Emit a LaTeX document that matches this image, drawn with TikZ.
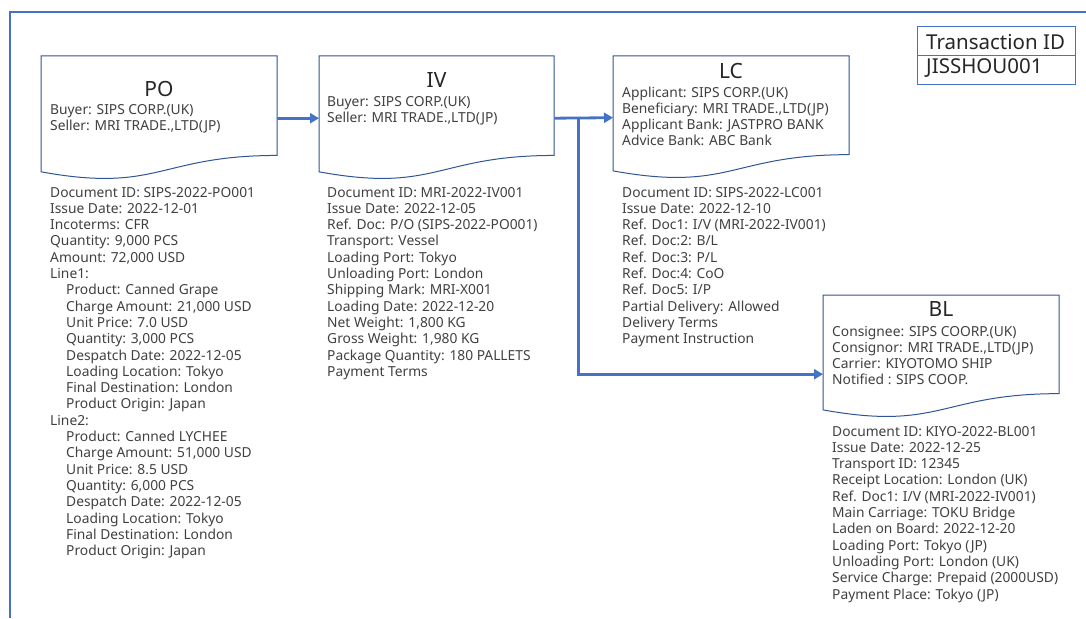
\documentclass[tikz,border=0pt]{standalone}
\usepackage{fontspec}
\setmainfont{Noto Sans}
\usetikzlibrary{arrows.meta}
\definecolor{frameblue}{RGB}{68,114,196}
\definecolor{shapeblue}{RGB}{47,85,151}
\definecolor{txtgray}{RGB}{64,64,64}
\definecolor{titlegray}{RGB}{38,38,38}
\newcommand{\docshape}[5]{%
  \draw[docline] (#2,#3) -- (#2+#4,#3) -- (#2+#4,#3+0.802*#5)
    .. controls (#2+0.5*#4,#3+0.802*#5) and (#2+0.5*#4,#3+1.1075*#5) .. (#2,#3+0.934*#5) -- cycle;
  \node[docbox, minimum width=#4pt, minimum height=#5pt] (#1) at (#2,#3) {};
}
\newcommand{\ind}{\hspace*{16pt}}
\tikzset{
  docline/.style={draw=shapeblue, line width=1pt, fill=white},
  docbox/.style={draw=none, inner sep=0pt, anchor=north west},
  conn/.style={draw=frameblue, line width=2.8pt, -{Triangle[length=9pt,width=10pt]}},
  body/.style={font=\fontsize{13.8}{16.3}\selectfont, text=txtgray, align=left, anchor=base west, inner sep=0pt},
  inbody/.style={font=\fontsize{13.8}{16}\selectfont, text=txtgray, align=left, anchor=base west, inner sep=0pt},
  doctitle/.style={font=\fontsize{21}{24}\selectfont, text=titlegray, anchor=base, inner sep=0pt},
  tidtext/.style={font=\fontsize{20.5}{24}\selectfont, text=titlegray, anchor=base west, inner sep=0pt},
  tidbox/.style={draw=frameblue, line width=1pt},
  outer/.style={draw=frameblue, line width=2pt},
}
\begin{document}
\begin{tikzpicture}[x=1pt,y=-1pt]
\useasboundingbox (0,0) rectangle (1086,618);
\draw[outer] (1086,12.5) -- (9.5,12.5) -- (9.5,618);

% Transaction ID table
\draw[tidbox] (917,27) rectangle (1075,84);
\draw[tidbox] (917,56) -- (1075,56);
\node[tidtext] (tidlabel) at (926,50) {Transaction ID};
\node[tidtext] (tidvalue) at (926,74) {JISSHOU001};

% document shapes
\docshape{po}{41}{56}{236}{124}
\docshape{iv}{319}{56}{235}{124}
\docshape{lc}{613}{56}{236}{123}
\docshape{bl}{823}{295}{236}{123}

% titles and inner texts (anchor = baseline of last line)
\node[doctitle] (potitle) at (159,96) {PO};
\node[inbody] (poinner) at (50,130) {Buyer: SIPS CORP.(UK)\\Seller: MRI TRADE.,LTD(JP)};
\node[doctitle] (ivtitle) at (436.5,87) {IV};
\node[inbody] (ivinner) at (327,122) {Buyer: SIPS CORP.(UK)\\Seller: MRI TRADE.,LTD(JP)};
\node[doctitle] (lctitle) at (731,78.5) {LC};
\node[inbody] (lcinner) at (622,145.5) {Applicant: SIPS CORP.(UK)\\Beneficiary: MRI TRADE.,LTD(JP)\\Applicant Bank: JASTPRO BANK\\Advice Bank: ABC Bank};
\node[doctitle] (bltitle) at (941,316.5) {BL};
\node[inbody] (blinner) at (832,384.5) {Consignee: SIPS COORP.(UK)\\Consignor: MRI TRADE.,LTD(JP)\\Carrier: KIYOTOMO SHIP\\Notified : SIPS COOP.};

% detail blocks (anchor = baseline of last line)
\node[body] (podetail) at (50,555.6) {Document ID: SIPS-2022-PO001\\Issue Date: 2022-12-01\\Incoterms: CFR\\Quantity: 9,000 PCS\\Amount: 72,000 USD\\Line1:\\
\ind Product: Canned Grape\\\ind Charge Amount: 21,000 USD\\\ind Unit Price: 7.0 USD\\\ind Quantity: 3,000 PCS\\\ind Despatch Date: 2022-12-05\\\ind Loading Location: Tokyo\\\ind Final Destination: London\\\ind Product Origin: Japan\\Line2:\\
\ind Product: Canned LYCHEE\\\ind Charge Amount: 51,000 USD\\\ind Unit Price: 8.5 USD\\\ind Quantity: 6,000 PCS\\\ind Despatch Date: 2022-12-05\\\ind Loading Location: Tokyo\\\ind Final Destination: London\\\ind Product Origin: Japan};
\node[body] (ivdetail) at (327,376.3) {Document ID: MRI-2022-IV001\\Issue Date: 2022-12-05\\Ref. Doc: P/O (SIPS-2022-PO001)\\Transport: Vessel\\Loading Port: Tokyo\\Unloading Port: London\\Shipping Mark: MRI-X001\\Loading Date: 2022-12-20\\Net Weight: 1,800 KG\\Gross Weight: 1,980 KG\\Package Quantity: 180 PALLETS\\Payment Terms};
\node[body] (lcdetail) at (622,343.7) {Document ID: SIPS-2022-LC001\\Issue Date: 2022-12-10\\Ref. Doc1: I/V (MRI-2022-IV001)\\Ref. Doc:2: B/L\\Ref. Doc:3: P/L\\Ref. Doc:4: CoO\\Ref. Doc5: I/P\\Partial Delivery: Allowed\\Delivery Terms\\Payment Instruction};
\node[body] (bldetail) at (832,599) {Document ID: KIYO-2022-BL001\\Issue Date: 2022-12-25\\Transport ID: 12345\\Receipt Location: London (UK)\\Ref. Doc1: I/V (MRI-2022-IV001)\\Main Carriage: TOKU Bridge\\Laden on Board: 2022-12-20\\Loading Port: Tokyo (JP)\\Unloading Port: London (UK)\\Service Charge: Prepaid (2000USD)\\Payment Place: Tokyo (JP)};

% connectors
\draw[conn] (po.east) -- (iv.west);
\draw[conn] (iv.east) -- (lc.west);
\draw[conn] ([xshift=24pt]iv.east) |- ([yshift=-17.5pt]bl.west);
\end{tikzpicture}
\end{document}
